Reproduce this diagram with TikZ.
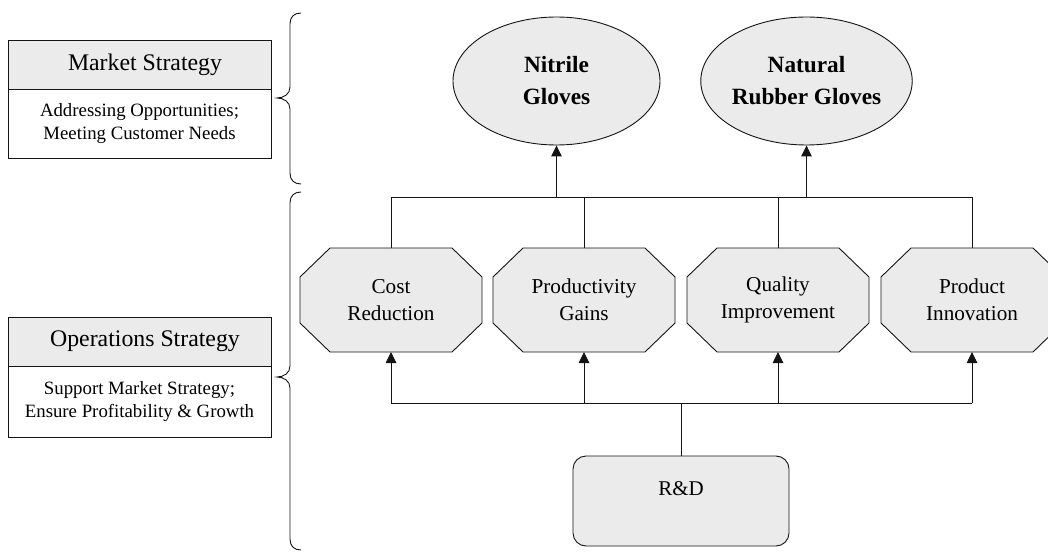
\documentclass[tikz,border=0pt]{standalone}
\usepackage{fontspec}
\setmainfont{Liberation Serif}
\usetikzlibrary{shapes.geometric,arrows.meta,calc,backgrounds}
\definecolor{boxfill}{RGB}{235,235,235}
\definecolor{linecol}{RGB}{20,20,20}

\tikzset{
  ln/.style={draw=linecol, line width=0.9pt},
  arr/.style={ln, -{Triangle[length=11pt,width=10.5pt]}},
  hdr/.style={rectangle, ln, fill=boxfill, minimum width=263pt, minimum height=49pt,
    outer sep=0pt, inner sep=0pt, font=\fontsize{23.8}{28}\selectfont},
  sub/.style={rectangle, ln, fill=white, minimum width=263pt, outer sep=0pt, inner sep=0pt,
    align=center, font=\fontsize{18.8}{22.5}\selectfont},
  glove/.style={ellipse, ln, fill=boxfill, minimum width=207pt, minimum height=128pt,
    inner sep=0pt, align=center, font=\fontsize{23.3}{32}\selectfont\bfseries},
  octo/.style={rectangle, minimum width=182pt, minimum height=104pt, outer sep=0pt,
    inner sep=0pt, align=center, font=\fontsize{21.2}{27}\selectfont},
  octoline/.style={ln, fill=boxfill},
  rdbox/.style={rectangle, rounded corners=13pt, ln, fill=boxfill, minimum width=216pt,
    minimum height=90pt, align=center, font=\fontsize{21}{24}\selectfont},
}

% curly brace opening to the right, tip pointing left
\newcommand\sidebrace[3]{%
  \draw[ln] (301,#1) .. controls (294,#1) and (290,{#1+4}) .. (290,{#1+11})
    -- (290,{#2-11}) .. controls (290,{#2-4}) and (284,#2) .. (277,#2)
    .. controls (284,#2) and (290,{#2+4}) .. (290,{#2+11})
    -- (290,{#3-11}) .. controls (290,{#3-4}) and (294,#3) .. (301,#3);}

\begin{document}
\begin{tikzpicture}[x=1pt, y=-1pt]
\useasboundingbox (0,0) rectangle (1048,553);
\clip (0,0) rectangle (1048,553);

% strategy boxes on the left
\node[hdr, anchor=north west] (mkthead) at (8,40) {\hspace*{11pt}Market Strategy};
\node[sub, anchor=north, minimum height=69pt] (mktbody) at (mkthead.south)
  {Addressing Opportunities;\\Meeting Customer Needs};
\node[hdr, anchor=north west] (opshead) at (8,317) {\hspace*{11pt}Operations Strategy};
\node[sub, anchor=north, minimum height=71pt] (opsbody) at (opshead.south)
  {Support Market Strategy;\\Ensure Profitability \& Growth};

% braces
\sidebrace{13}{98}{184}
\sidebrace{192}{377}{550}

% products
\node[glove] (nitrile) at (556.5,81) {Nitrile\\Gloves};
\node[glove] (natural) at (806.5,81) {Natural\\Rubber Gloves};

% operational levers
\node[octo] (cost)  at (391,300) {Cost\\Reduction};
\node[octo] (prod)  at (584,300) {Productivity\\Gains};
\node[octo] (qual)  at (778,300) {Quality\\Improvement};
\node[octo] (innov) at (972,300) {Product\\Innovation};

\begin{scope}[on background layer]
\foreach \n in {cost,prod,qual,innov}
  \filldraw[octoline] ($(\n.north west)+(30,0)$) -- ($(\n.north east)+(-30,0)$)
    -- ($(\n.north east)+(0,29)$) -- ($(\n.south east)+(0,-29)$)
    -- ($(\n.south east)+(-30,0)$) -- ($(\n.south west)+(30,0)$)
    -- ($(\n.south west)+(0,-29)$) -- ($(\n.north west)+(0,29)$) -- cycle;
\end{scope}

% research & development
\node[rdbox] (rd) at (681,501) {R\&D\\\mbox{}};

% upper bus
\coordinate (topbus) at (0,197);
\coordinate (botbus) at (0,403);
\draw[ln] (cost.north) -- (cost.north |- topbus) -- (innov.north |- topbus) -- (innov.north);
\draw[ln] (prod.north) -- (prod.north |- topbus);
\draw[ln] (qual.north) -- (qual.north |- topbus);
\draw[arr] (nitrile.south |- topbus) -- (nitrile.south);
\draw[arr] (natural.south |- topbus) -- (natural.south);

% lower bus
\draw[ln] (cost.south |- botbus) -- (innov.south |- botbus);
\draw[ln] (rd.north) -- (rd.north |- botbus);
\foreach \n in {cost,prod,qual,innov}
  \draw[arr] (\n.south |- botbus) -- (\n.south);
\end{tikzpicture}
\end{document}
